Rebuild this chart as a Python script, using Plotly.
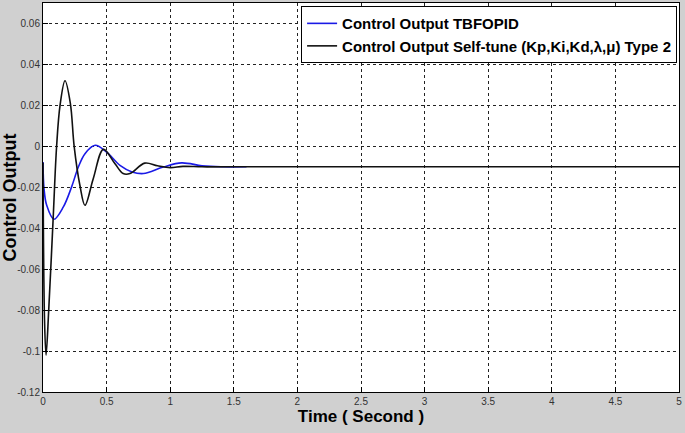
import plotly.graph_objects as go

# Black curve: Self-tune (Kp,Ki,Kd,lambda,mu) Type 2
t_black = [0, 0.012, 0.024, 0.045, 0.08, 0.107, 0.134, 0.173, 0.215, 0.245, 0.29, 0.33,
           0.395, 0.475, 0.566, 0.63, 0.684, 0.80, 0.90, 1.0, 1.1, 1.25, 1.5, 3.0, 5.0]
y_black = [-0.008, -0.085, -0.102, -0.080, -0.035, 0.0, 0.02, 0.032, 0.021, 0.0, -0.019, -0.0288,
           -0.0158, -0.0015, -0.0085, -0.0133, -0.0133, -0.0082, -0.0095, -0.0104, -0.0098,
           -0.0100, -0.0100, -0.0100, -0.0100]

# Blue curve: TBFOPID
t_blue = [0, 0.008, 0.029, 0.086, 0.16, 0.225, 0.278, 0.33, 0.41, 0.50, 0.605, 0.70, 0.79,
          0.946, 1.09, 1.25, 1.4, 1.6]
y_blue = [-0.0077, -0.0206, -0.0288, -0.0356, -0.0296, -0.0198, -0.0101, -0.0036, 0.0005, -0.0028,
          -0.0093, -0.0125, -0.0133, -0.0101, -0.0081, -0.0095, -0.0100, -0.0100]

x_ticks = [0, 0.5, 1, 1.5, 2, 2.5, 3, 3.5, 4, 4.5, 5]
x_ticktext = ["0", "0.5", "1", "1.5", "2", "2.5", "3", "3.5", "4", "4.5", "5"]
y_ticks = [-0.12, -0.1, -0.08, -0.06, -0.04, -0.02, 0, 0.02, 0.04, 0.06]
y_ticktext = ["-0.12", "-0.1", "-0.08", "-0.06", "-0.04", "-0.02", "0", "0.02", "0.04", "0.06"]

FONT = "Liberation Sans Narrow, Arial Narrow, Liberation Sans, Arial"

fig = go.Figure()
fig.add_trace(go.Scatter(x=t_blue, y=y_blue, mode="lines", name="<b>Control Output TBFOPID</b>",
                         line=dict(color="#1a1ae6", width=1.6, shape="spline", smoothing=1.0)))
fig.add_trace(go.Scatter(x=t_black, y=y_black, mode="lines",
                         name="<b>Control Output Self-tune (Kp,Ki,Kd,λ,μ) Type 2</b>",
                         line=dict(color="#111111", width=1.6, shape="spline", smoothing=1.0)))

axis_common = dict(showgrid=True, gridcolor="#222222", griddash="dot", gridwidth=1,
                   showline=True, linecolor="#000000", linewidth=1, mirror=True,
                   ticks="inside", ticklen=5, tickcolor="#000000", zeroline=False,
                   automargin=False,
                   tickfont=dict(family=FONT, size=10, color="#333333"))

fig.update_layout(
    width=685, height=433,
    margin=dict(l=43, r=6, t=3, b=41),
    paper_bgcolor="#d0d0d0", plot_bgcolor="#ffffff",
    showlegend=True,
    legend=dict(x=0.997, y=0.992, xanchor="right", yanchor="top",
                bgcolor="#ffffff", bordercolor="#000000", borderwidth=1,
                font=dict(family=FONT, size=15, color="#000000"),
                tracegroupgap=0, itemwidth=30),
    xaxis=dict(range=[0, 5], tickvals=x_ticks, ticktext=x_ticktext,
               title=dict(text="<b>Time ( Second )</b>", standoff=4,
                          font=dict(family=FONT, size=17, color="#000000")),
               **axis_common),
    yaxis=dict(range=[-0.12, 0.07], tickvals=y_ticks, ticktext=y_ticktext,
               title=dict(text="<b>Control Output</b>", standoff=5,
                          font=dict(family=FONT, size=18, color="#000000")),
               **axis_common),
)

fig.write_html("out.html", config={"displayModeBar": False},
               post_script="document.body.style.margin='0';document.body.style.background='#d0d0d0';")
